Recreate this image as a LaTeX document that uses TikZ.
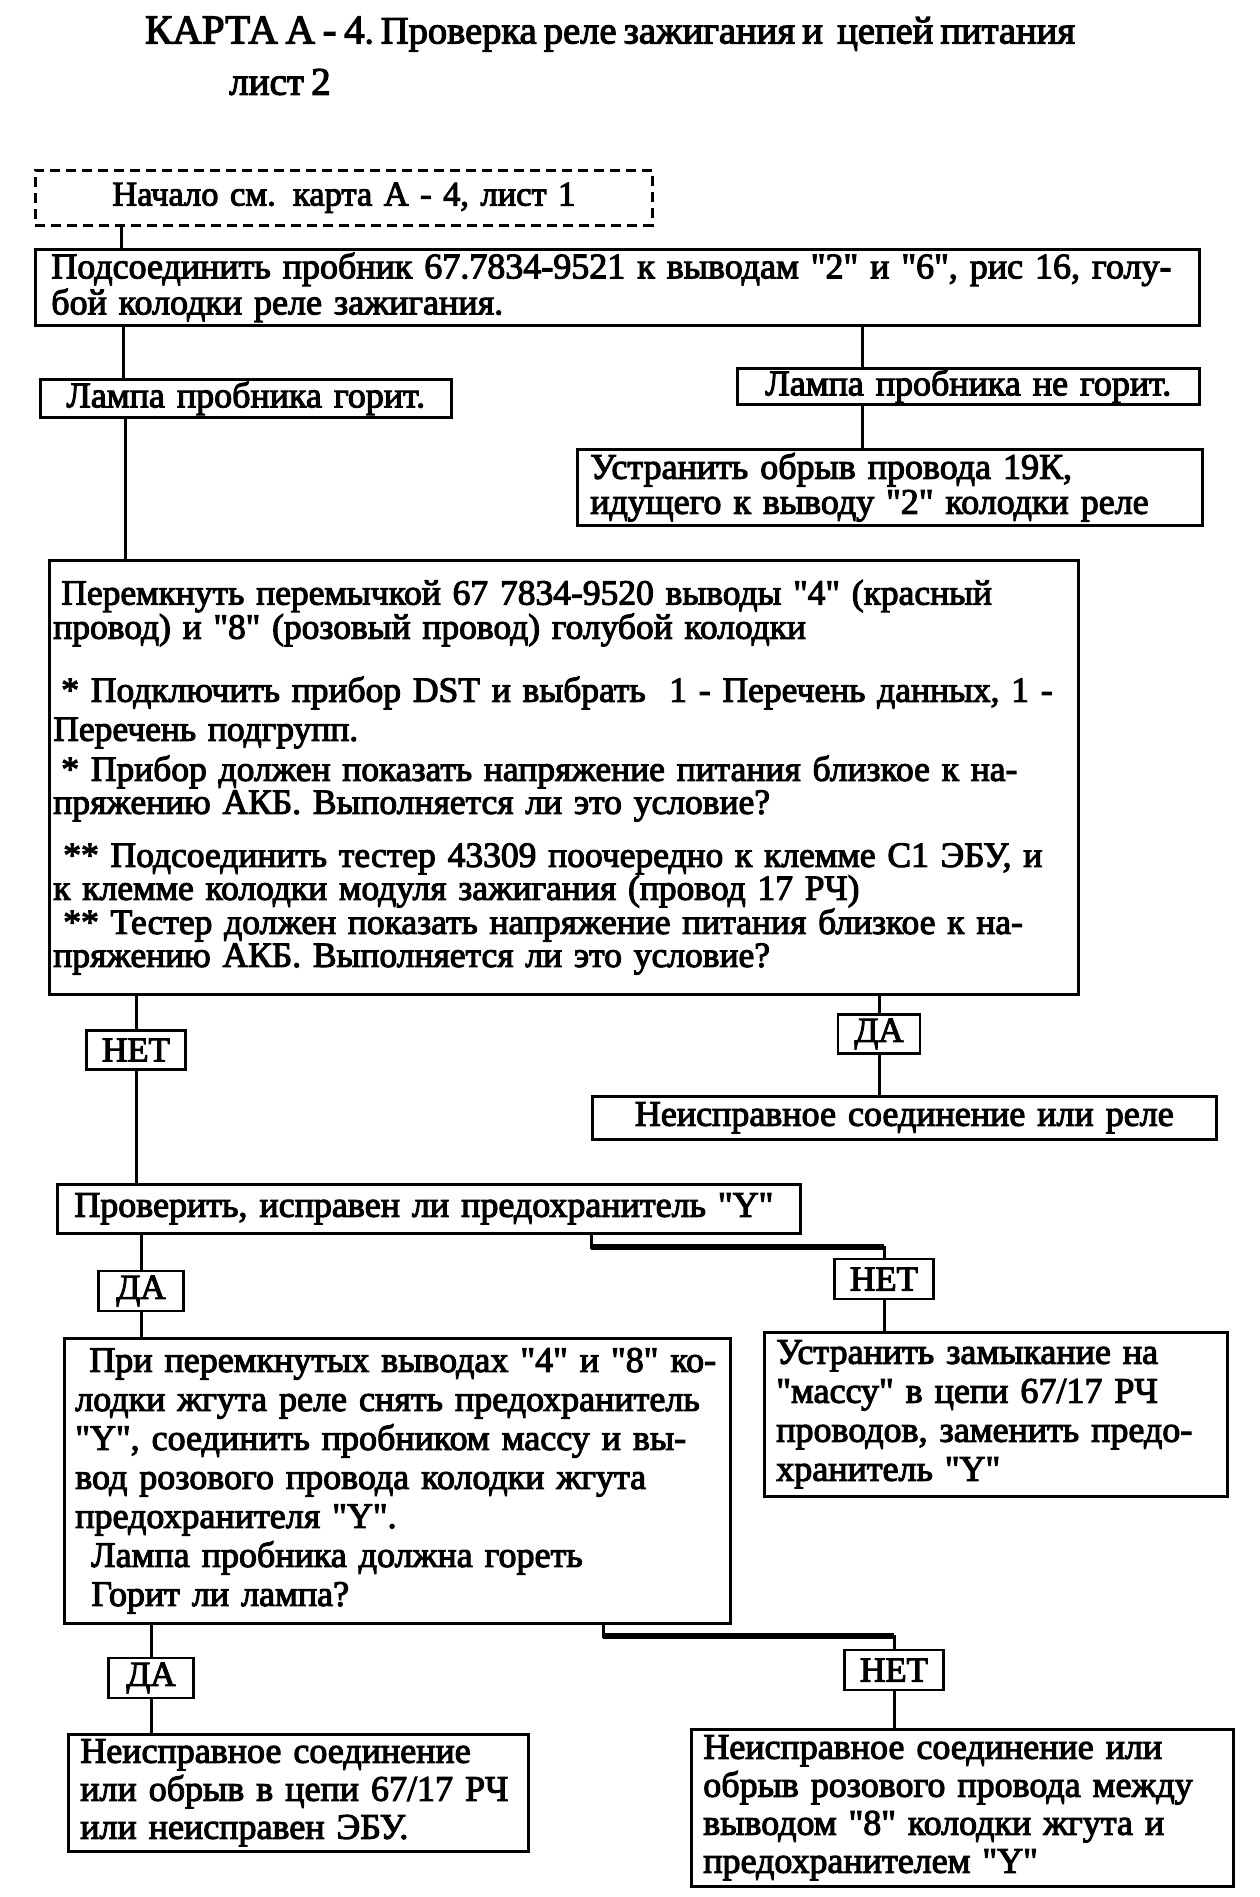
\documentclass[tikz,border=0pt]{standalone}
\usepackage{fontspec}
\newfontfamily\scanfont{Liberation Serif}[WordSpace=0.75,FakeBold=3]
\newcommand\bodyfont[1][38]{\scanfont\fontsize{36}{#1}\selectfont}

\begin{document}
\begin{tikzpicture}[x=1pt, y=-1pt,
  every node/.style={font=\bodyfont},
  blk/.style={draw, line width=2.6pt, anchor=north west, align=left, inner ysep=0pt},
  tag/.style={draw, line width=2.6pt, inner sep=0pt, font=\scanfont\fontsize{35}{36}\selectfont},
  link/.style={line width=3pt},
  heavy/.style={line width=6pt}]
  \useasboundingbox (0,0) rectangle (1260,1897);

  % Title
  \node (title) at (610,34) {{\fontsize{41}{42}\selectfont КАРТА А - 4}.\fontsize{38.5}{42}\selectfont\ Проверка реле зажигания и\ \ цепей питания};
  \node[font=\scanfont\fontsize{39}{42}\selectfont] (sheet) at (280,82) {лист 2};

  % Upper part
  \node[blk, dashed, dash pattern=on 10pt off 6pt, align=center, inner xsep=6pt,
        text width=605pt, minimum height=55pt, font=\scanfont\fontsize{34.5}{38}\selectfont] (start) at (34,169)
    {Начало см. карта А - 4, лист 1};
  \node[blk, inner xsep=16pt, text width=1132pt, minimum height=76pt, font={\bodyfont[36]}] (probe1) at (34,248)
    {Подсоединить пробник 67.7834-9521 к выводам "2" и "6", рис 16, голу-\\
     бой колодки реле зажигания.};
  \node[blk, align=center, inner xsep=6pt, text width=399pt, minimum height=38pt] (lampon) at (39,378)
    {Лампа пробника горит.};
  \node[blk, align=center, inner xsep=6pt, text width=450pt, minimum height=36pt] (lampoff) at (736,367)
    {Лампа пробника не горит.};
  \node[blk, inner xsep=13pt, text width=599pt, minimum height=76pt, font={\bodyfont[35]}] (fixwire) at (576,448)
    {Устранить обрыв провода 19К,\\
     идущего к выводу "2" колодки реле};

  % Main check
  \node[blk, inner xsep=4pt, text width=1021pt, minimum height=434pt, font=\scanfont\fontsize{35.5}{33}\selectfont] (jumper) at (48,559)
    {\hspace{8pt}Перемкнуть перемычкой 67 7834-9520 выводы "4" (красный\\
     провод) и "8" (розовый провод) голубой колодки\\[29pt]
     \hspace{8pt}* Подключить прибор DST и выбрать\ \ 1 - Перечень данных, 1 -\\[6pt]
     Перечень подгрупп.\\[6pt]
     \hspace{8pt}* Прибор должен показать напряжение питания близкое к на-\\
     пряжению АКБ. Выполняется ли это условие?\\[20pt]
     \hspace{10pt}** Подсоединить тестер 43309 поочередно к клемме C1 ЭБУ, и\\
     к клемме колодки модуля зажигания (провод 17 РЧ)\\
     \hspace{10pt}** Тестер должен показать напряжение питания близкое к на-\\
     пряжению АКБ. Выполняется ли это условие?};

  \node[tag, minimum width=99pt, minimum height=39pt] (no1) at (136,1050) {НЕТ};
  \node[tag, minimum width=82pt, minimum height=39pt] (yes1) at (879,1034) {ДА};
  \node[blk, align=center, inner xsep=6pt, text width=612pt, minimum height=43pt] (badrelay) at (591,1095)
    {Неисправное соединение или реле};

  % Fuse check
  \node[blk, inner xsep=17pt, text width=709pt, minimum height=49pt] (fuse) at (56,1183)
    {Проверить, исправен ли предохранитель "Y"};
  \node[tag, minimum width=85pt, minimum height=40pt] (yes2) at (141,1291) {ДА};
  \node[tag, minimum width=99pt, minimum height=40pt] (no2) at (884,1279) {НЕТ};
  \node[blk, inner xsep=12pt, text width=439pt, minimum height=164pt, font={\bodyfont[39]}] (short) at (763,1331)
    {Устранить замыкание на\\
     "массу" в цепи 67/17 РЧ\\
     проводов, заменить предо-\\
     хранитель "Y"};
  \node[blk, inner xsep=11pt, text width=644pt, minimum height=285pt, font={\bodyfont[39]}] (lamptest) at (63,1337)
    {\hspace{14pt}При перемкнутых выводах "4" и "8" ко-\\
     лодки жгута реле снять предохранитель\\
     "Y", соединить пробником массу и вы-\\
     вод розового провода колодки жгута\\
     предохранителя "Y".\\
     \hspace{16pt}Лампа пробника должна гореть\\
     \hspace{16pt}Горит ли лампа?};

  % Lamp result
  \node[tag, minimum width=85pt, minimum height=40pt] (yes3) at (151,1678) {ДА};
  \node[tag, minimum width=99pt, minimum height=40pt] (no3) at (894,1670) {НЕТ};
  \node[blk, inner xsep=12pt, text width=436pt, minimum height=117pt] (badecu) at (67,1733)
    {Неисправное соединение\\
     или обрыв в цепи 67/17 РЧ\\
     или неисправен ЭБУ.};
  \node[blk, inner xsep=12pt, text width=518pt, minimum height=157pt] (badpink) at (690,1728)
    {Неисправное соединение или\\
     обрыв розового провода между\\
     выводом "8" колодки жгута и\\
     предохранителем "Y"};

  % Connector positions
  \coordinate (c1) at (121,0);
  \coordinate (c2) at (123,0);
  \coordinate (c3) at (125,0);
  \coordinate (c4) at (862,0);
  \coordinate (k1) at (591,1247);
  \coordinate (k2) at (603,1636);

  % Connectors
  \draw[link] (start.south -| c1) -- (probe1.north -| c1);
  \draw[link] (probe1.south -| c2) -- (lampon.north -| c2);
  \draw[link] (lampon.south -| c3) -- (jumper.north -| c3);
  \draw[link] (probe1.south -| c4) -- (lampoff.north -| c4);
  \draw[link] (lampoff.south -| c4) -- (fixwire.north -| c4);

  \draw[link] (jumper.south -| no1) -- (no1.north);
  \draw[link] (no1.south) -- (fuse.north -| no1);
  \draw[link] (jumper.south -| yes1) -- (yes1.north);
  \draw[link] (yes1.south) -- (badrelay.north -| yes1);

  \draw[link] (fuse.south -| yes2) -- (yes2.north);
  \draw[link] (yes2.south) -- (lamptest.north -| yes2);
  \draw[link] (fuse.south -| k1) -- (k1) -| (no2.north);
  \draw[heavy] (k1) -- (k1 -| no2);
  \draw[link] (no2.south) -- (short.north -| no2);

  \draw[link] (lamptest.south -| yes3) -- (yes3.north);
  \draw[link] (yes3.south) -- (badecu.north -| yes3);
  \draw[link] (lamptest.south -| k2) -- (k2) -| (no3.north);
  \draw[heavy] (k2) -- (k2 -| no3);
  \draw[link] (no3.south) -- (badpink.north -| no3);
\end{tikzpicture}
\end{document}
